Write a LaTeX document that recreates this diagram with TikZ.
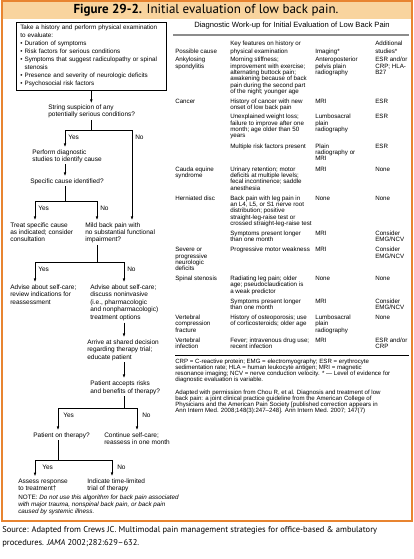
\documentclass[tikz,border=0pt]{standalone}
\usepackage{fontspec}
\setmainfont{Liberation Sans}
\newfontfamily\ptsans{PT Sans}
\usetikzlibrary{arrows.meta}
\definecolor{frameorange}{RGB}{232,132,48}
\definecolor{bandfill}{RGB}{249,212,158}
\newcommand{\flowf}{\fontsize{6.5}{7.3}\selectfont}
\newcommand{\tcell}[2][7.5pt]{\parbox[t]{120pt}{\raggedright\fontsize{6.2}{#1}\selectfont #2}}
\newcommand{\fcell}[2][7.3pt]{\parbox[t]{130pt}{\raggedright\fontsize{6.5}{#1}\selectfont #2}}
\begin{document}
\begin{tikzpicture}[x=1pt,y=-1pt,line width=0.6pt,
  arr/.style={-{Latex[length=3.5pt,width=2.6pt]},shorten >=2pt},
  ln/.style={shorten <=1.5pt},
  cell/.style={anchor=base west,inner sep=0pt},
  lbl/.style={anchor=west,inner sep=0pt,font=\flowf}]
\useasboundingbox (0,0) rectangle (413,559);
\fill[white] (0,0) rectangle (413,559);
\fill[bandfill] (1.5,1.5) rectangle (411.5,19);
\draw[frameorange,line width=2pt] (1.5,1.5) rectangle (411.5,521);
\node (title) at (206,10.5) {\ptsans\fontsize{13}{15}\selectfont\textbf{Figure 29-2.} Initial evaluation of low back pain.};

% ---------------- flowchart ----------------
\node (box) [draw,anchor=north west,inner xsep=4pt,inner ysep=3pt,text width=142pt,align=left,font=\fontsize{6.3}{8}\selectfont] at (16,22)
 {Take a history and perform physical examination\\to evaluate:\\• Duration of symptoms\\• Risk factors for serious conditions\\• Symptoms that suggest radiculopathy or spinal\\\phantom{• }stenosis\\• Presence and severity of neurologic deficits\\• Psychosocial risk factors};

\node[cell] (q1) at (48,110) {\fcell[7pt]{String suspicion of any\\potentially serious conditions?}};
\node[cell] (n2) at (32,154) {\fcell[7pt]{Perform diagnostic\\studies to identify cause}};
\node[cell] (q3) at (30,183) {\fcell{Specific cause identified?}};
\node[cell] (n4) at (10,227) {\fcell{Treat specific cause\\as indicated; consider\\consultation}};
\node[cell] (n5) at (85,227) {\fcell{Mild back pain with\\no substantial functional\\impairment?}};
\node[cell] (n6) at (10,289) {\fcell[7.5pt]{Advise about self-care;\\review indications for\\reassessment}};
\node[cell] (n7) at (90,289) {\fcell[7.6pt]{Advise about self-care;\\discuss noninvasive\\(i.e., pharmacologic\\and nonpharmacologic)\\treatment options}};
\node[cell] (n8) at (87,344) {\fcell[7.5pt]{Arrive at shared decision\\regarding therapy trial;\\educate patient}};
\node[cell] (n9) at (90,385) {\fcell[8pt]{Patient accepts risks\\and benefits of therapy?}};
\node[cell] (n10) at (33,437) {\fcell{Patient on therapy?}};
\node[cell] (n11) at (104,437) {\fcell[7pt]{Continue self-care;\\reassess in one month}};
\node[cell] (n12) at (18,483) {\fcell[7pt]{Assess response\\to treatment†}};
\node[cell] (n13) at (87,483) {\fcell[7pt]{Indicate time-limited\\trial of therapy}};
\node[cell] (note) at (18,499) {\parbox[t]{220pt}{\raggedright\fontsize{6.3}{7}\selectfont NOTE: \textit{Do not use this algorithm for back pain associated\\with major trauma, nonspinal back pain, or back pain\\caused by systemic illness.}}};

\coordinate (j1) at (91,130);
\coordinate (y1) at (65,130);
\coordinate (no1) at (132,130);
\coordinate (j3) at (65,201);
\coordinate (y3) at (35,201);
\coordinate (no3) at (97,201);
\coordinate (j5) at (97,262);
\coordinate (y5) at (35,262);
\coordinate (no5) at (124,262);
\coordinate (j9) at (124,408);
\coordinate (y9) at (58,408);
\coordinate (no9) at (137,408);
\coordinate (j10) at (58,460);
\coordinate (y10) at (35,460);
\coordinate (no10) at (112,460);

\draw[arr] (box.south) -- (box.south |- q1.north);
\draw[ln] (j1 |- q1.south) -- (j1);
\draw (y1) -- (no1);
\draw[arr] (y1) -- (y1 |- n2.north);
\draw[arr] (no1) -- (no1 |- n5.north);
\node[lbl] (l1y) at (68,137.5) {Yes};
\node[lbl] (l1n) at (135,137.5) {No};

\draw[arr,shorten <=1.5pt] (j3 |- n2.south) -- (j3 |- q3.north);
\draw[ln] (j3 |- q3.south) -- (j3);
\draw (y3) -- (no3);
\draw[arr] (y3) -- (y3 |- n4.north);
\draw[arr] (no3) -- (no3 |- n5.north);
\node[lbl] (l3y) at (38,208) {Yes};
\node[lbl] (l3n) at (100,208) {No};

\draw[ln] (j5 |- n5.south) -- (j5);
\draw (y5) -- (no5);
\draw[arr] (y5) -- (y5 |- n6.north);
\draw[arr] (no5) -- (no5 |- n7.north);
\node[lbl] (l5y) at (38,269.5) {Yes};
\node[lbl] (l5n) at (127,269.5) {No};

\draw[arr,shorten <=1.5pt] (no5 |- n7.south) -- (no5 |- n8.north);
\draw[arr,shorten <=1.5pt] (no5 |- n8.south) -- (no5 |- n9.north);
\draw[ln] (j9 |- n9.south) -- (j9);
\draw (y9) -- (no9);
\draw[arr] (y9) -- (y9 |- n10.north);
\draw[arr] (no9) -- (no9 |- n11.north);
\node[lbl] (l9y) at (63,415.5) {Yes};
\node[lbl] (l9n) at (142,415.5) {No};

\draw[ln] (j10 |- n10.south) -- (j10);
\draw (y10) -- (no10);
\draw[arr] (y10) -- (y10 |- n12.north);
\draw[arr] (no10) -- (no10 |- n13.north);
\node[lbl] (l10y) at (42,467) {Yes};
\node[lbl] (l10n) at (117,467) {No};

% ---------------- table ----------------
\node (ttitle) at (292,25.5) {\fontsize{7.6}{9}\selectfont Diagnostic Work-up for Initial Evaluation of Low Back Pain};
\draw[line width=2pt,black!45] (173,35) -- (409,35);

\node[cell] (h1) at (175,54) {\tcell{Possible cause}};
\node[cell] (h2) at (230,46) {\tcell{Key features on history or\\physical examination}};
\node[cell] (h3) at (315,54) {\tcell{Imaging*}};
\node[cell] (h4) at (375,46) {\tcell{Additional\\studies*}};

\node[cell] (a1) at (175,62) {\tcell[6.3pt]{Ankylosing\\spondylitis}};
\node[cell] (a2) at (230,62) {\tcell[6.3pt]{Morning stiffness;\\improvement with exercise;\\alternating buttock pain;\\awakening because of back\\pain during the second part\\of the night; younger age}};
\node[cell] (a3) at (315,62) {\tcell[6.3pt]{Anteroposterior\\pelvis plain\\radiography}};
\node[cell] (a4) at (375,62) {\tcell[6.3pt]{ESR and/or\\CRP; HLA-\\B27}};

\node[cell] (b1) at (175,103) {\tcell[6.3pt]{Cancer}};
\node[cell] (b2) at (230,103) {\tcell[6.3pt]{History of cancer with new\\onset of low back pain}};
\node[cell] (b3) at (315,103) {\tcell[6.3pt]{MRI}};
\node[cell] (b4) at (375,103) {\tcell[6.3pt]{ESR}};

\node[cell] (c2) at (230,119) {\tcell[6.3pt]{Unexplained weight loss;\\failure to improve after one\\month; age older than 50\\years}};
\node[cell] (c3) at (315,119) {\tcell[6.3pt]{Lumbosacral\\plain\\radiography}};
\node[cell] (c4) at (375,119) {\tcell[6.3pt]{ESR}};

\node[cell] (d2) at (230,148.2) {\tcell[6.3pt]{Multiple risk factors present}};
\node[cell] (d3) at (315,148.2) {\tcell[6.3pt]{Plain\\radiography or\\MRI}};
\node[cell] (d4) at (375,148.2) {\tcell[6.3pt]{ESR}};

\node[cell] (e1) at (175,171.3) {\tcell[6.3pt]{Cauda equine\\syndrome}};
\node[cell] (e2) at (230,171.3) {\tcell[6.3pt]{Urinary retention; motor\\deficits at multiple levels;\\fecal incontinence; saddle\\anesthesia}};
\node[cell] (e3) at (315,171.3) {\tcell[6.3pt]{MRI}};
\node[cell] (e4) at (375,171.3) {\tcell[6.3pt]{None}};

\node[cell] (f1) at (175,200.2) {\tcell[6.3pt]{Herniated disc}};
\node[cell] (f2) at (230,200.2) {\tcell[6.3pt]{Back pain with leg pain in\\an L4, L5, or S1 nerve root\\distribution; positive\\straight-leg-raise test or\\crossed straight-leg-raise test}};
\node[cell] (f3) at (315,200.2) {\tcell[6.3pt]{None}};
\node[cell] (f4) at (375,200.2) {\tcell[6.3pt]{None}};

\node[cell] (g2) at (230,235.4) {\tcell[6.3pt]{Symptoms present longer\\than one month}};
\node[cell] (g3) at (315,235.4) {\tcell[6.3pt]{MRI}};
\node[cell] (g4) at (375,235.4) {\tcell[6.3pt]{Consider\\EMG/NCV}};

\node[cell] (k1) at (175,251.7) {\tcell[6.3pt]{Severe or\\progressive\\neurologic\\deficits}};
\node[cell] (k2) at (230,251.7) {\tcell[6.3pt]{Progressive motor weakness}};
\node[cell] (k3) at (315,251.7) {\tcell[6.3pt]{MRI}};
\node[cell] (k4) at (375,251.7) {\tcell[6.3pt]{Consider\\EMG/NCV}};

\node[cell] (m1) at (175,280.6) {\tcell[6.3pt]{Spinal stenosis}};
\node[cell] (m2) at (230,280.6) {\tcell[6.3pt]{Radiating leg pain; older\\age; pseudoclaudication is\\a weak predictor}};
\node[cell] (m3) at (315,280.6) {\tcell[6.3pt]{None}};
\node[cell] (m4) at (375,280.6) {\tcell[6.3pt]{None}};

\node[cell] (p2) at (230,303.2) {\tcell[6.3pt]{Symptoms present longer\\than one month}};
\node[cell] (p3) at (315,303.2) {\tcell[6.3pt]{MRI}};
\node[cell] (p4) at (375,303.2) {\tcell[6.3pt]{Consider\\EMG/NCV}};

\node[cell] (r1) at (175,319.5) {\tcell[6.3pt]{Vertebral\\compression\\fracture}};
\node[cell] (r2) at (230,319.5) {\tcell[6.3pt]{History of osteoporosis; use\\of corticosteroids; older age}};
\node[cell] (r3) at (315,319.5) {\tcell[6.3pt]{Lumbosacral\\plain\\radiography}};
\node[cell] (r4) at (375,319.5) {\tcell[6.3pt]{None}};

\node[cell] (s1) at (175,342.1) {\tcell[6.3pt]{Vertebral\\infection}};
\node[cell] (s2) at (230,342.1) {\tcell[6.3pt]{Fever; intravenous drug use;\\recent infection}};
\node[cell] (s3) at (315,342.1) {\tcell[6.3pt]{MRI}};
\node[cell] (s4) at (375,342.1) {\tcell[6.3pt]{ESR and/or\\CRP}};

\draw[line width=0.5pt] (175,355) -- (409,355);

\node[cell] (fn1) at (175,363) {\parbox[t]{235pt}{\raggedright\fontsize{6.1}{6.3}\selectfont CRP = C-reactive protein; EMG = electromyography; ESR = erythrocyte\\sedimentation rate; HLA = human leukocyte antigen; MRI = magnetic\\resonance imaging; NCV = nerve conduction velocity. * — Level of evidence for\\diagnostic evaluation is variable.}};
\node[cell] (fn2) at (175,394) {\parbox[t]{235pt}{\raggedright\fontsize{6.1}{6.3}\selectfont Adapted with permission from Chou R, et al. Diagnosis and treatment of low\\back pain: a joint clinical practice guideline from the American College of\\Physicians and the American Pain Society [published correction appears in\\Ann Intern Med. 2008;148(3):247–248]. Ann Intern Med. 2007; 147(7)}};

% ---------------- source ----------------
\node[cell] (src1) at (2,532) {\ptsans\fontsize{8.5}{10}\selectfont Source: Adapted from Crews JC. Multimodal pain management strategies for office-based \& ambulatory};
\node[cell] (src2) at (2,545) {\ptsans\fontsize{8.5}{10}\selectfont procedures. \textit{JAMA} 2002;282:629–632.};
\end{tikzpicture}
\end{document}
